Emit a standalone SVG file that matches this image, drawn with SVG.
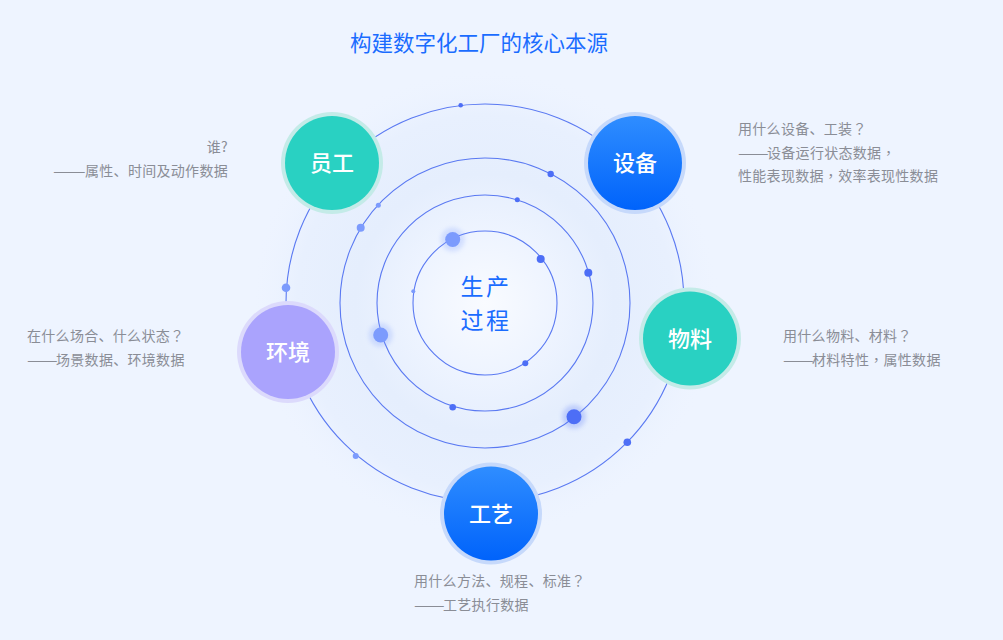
<svg xmlns="http://www.w3.org/2000/svg" width="1003" height="640" viewBox="0 0 1003 640">
<defs>
<style>
.ring{fill:none;stroke:#5a79f2;stroke-width:1.1}
.side{font-family:"Noto Sans CJK SC","Noto Sans",sans-serif;font-size:14px;fill:#8a8d96;letter-spacing:0.3px}
.p{font-family:"Noto Sans CJK TC","Noto Sans CJK SC",sans-serif}
.lbl{font-family:"Noto Sans CJK SC","Noto Sans",sans-serif;font-size:22px;fill:#ffffff;text-anchor:middle;font-weight:500}
.dk{fill:#4d6ef6}
.lt{fill:#7c9bfd}
.ctr{font-family:"Noto Sans CJK SC","Noto Sans",sans-serif;font-size:23px;fill:#1a6cff;text-anchor:middle;letter-spacing:2.5px}
</style>
<radialGradient id="glow" cx="485" cy="303" r="235" gradientUnits="userSpaceOnUse">
<stop offset="0" stop-color="#f9fbff"/>
<stop offset="0.3" stop-color="#eef4ff"/>
<stop offset="0.55" stop-color="#e5eefd"/>
<stop offset="0.8" stop-color="#e8f0fe"/>
<stop offset="1" stop-color="#eef4ff" stop-opacity="0"/>
</radialGradient>
<linearGradient id="blue" x1="0" y1="0" x2="0" y2="1">
<stop offset="0" stop-color="#2f8dff"/>
<stop offset="1" stop-color="#0063fb"/>
</linearGradient>
<filter id="blur" x="-1" y="-1" width="3" height="3"><feGaussianBlur stdDeviation="2"/></filter>
</defs>
<rect width="1003" height="640" fill="#eef4ff"/>
<circle cx="485" cy="303" r="235" fill="url(#glow)"/>
<text x="479" y="51" text-anchor="middle" font-family="'Noto Sans CJK SC','Noto Sans',sans-serif" font-size="21.5" fill="#1a6cff">构建数字化工厂的核心本源</text>
<g id="connectors">
<circle class="ring" cx="485" cy="303" r="72"/>
<circle class="ring" cx="485" cy="303" r="108"/>
<circle class="ring" cx="485" cy="303" r="145"/>
<circle class="ring" cx="485" cy="303" r="199"/>
<g id="dots">
<circle class="lt" cx="452.7" cy="239.5" r="12" opacity="0.25" filter="url(#blur)"/>
<circle class="lt" cx="452.7" cy="239.5" r="7.5"/>
<circle class="lt" cx="380.7" cy="335" r="12" opacity="0.25" filter="url(#blur)"/>
<circle class="lt" cx="380.7" cy="335" r="7.5"/>
<circle class="dk" cx="574" cy="416.7" r="12" opacity="0.25" filter="url(#blur)"/>
<circle class="dk" cx="574" cy="416.7" r="7.5"/>
<circle class="dk" cx="540.7" cy="259" r="4"/>
<circle class="dk" cx="588.3" cy="272.7" r="4"/>
<circle class="dk" cx="550.7" cy="174" r="3.2"/>
<circle class="dk" cx="517.3" cy="199.7" r="2.5"/>
<circle class="lt" cx="413.3" cy="291.3" r="2"/>
<circle class="lt" cx="378.3" cy="205.3" r="2.5"/>
<circle class="lt" cx="360.7" cy="227.7" r="4"/>
<circle class="dk" cx="460.7" cy="105.3" r="2.3"/>
<circle class="lt" cx="286" cy="287.7" r="4.3"/>
<circle class="dk" cx="525.3" cy="363.3" r="3"/>
<circle class="dk" cx="452.7" cy="407.3" r="3.3"/>
<circle class="dk" cx="627.3" cy="442.3" r="3.8"/>
<circle class="lt" cx="355.7" cy="456" r="3"/>
</g>
</g>
<g id="center">
<text class="ctr" x="486" y="295">生产</text>
<text class="ctr" x="486" y="329">过程</text>
</g>
<g id="node-yuangong">
<circle cx="332" cy="163" r="51" fill="#c4ebe8"/>
<circle cx="332" cy="163" r="47" fill="#29d1c2"/>
<text class="lbl" x="332" y="171">员工</text>
<text class="side" x="228" y="152" text-anchor="end">谁?</text>
<text class="side" x="53" y="176" textLength="33" lengthAdjust="spacingAndGlyphs">——</text>
<text class="side" x="228" y="176" text-anchor="end">属性、时间及动作数据</text>
</g>
<g id="node-shebei">
<circle cx="635" cy="163" r="51" fill="#c6d9fb"/>
<circle cx="635" cy="163" r="47" fill="url(#blue)"/>
<text class="lbl" x="635" y="171">设备</text>
<text class="side" x="738" y="134">用什么设备、工装<tspan class="p">？</tspan></text>
<text class="side" x="738" y="158" textLength="31" lengthAdjust="spacingAndGlyphs">——</text>
<text class="side" x="767" y="158">设备运行状态数据<tspan class="p">，</tspan></text>
<text class="side" x="738" y="181">性能表现数据<tspan class="p">，</tspan>效率表现性数据</text>
</g>
<g id="node-wuliao">
<circle cx="690" cy="338.5" r="51" fill="#c4ebe8"/>
<circle cx="690" cy="338.5" r="47" fill="#29d1c2"/>
<text class="lbl" x="690" y="346.5">物料</text>
<text class="side" x="783" y="341">用什么物料、材料<tspan class="p">？</tspan></text>
<text class="side" x="783" y="365" textLength="31" lengthAdjust="spacingAndGlyphs">——</text>
<text class="side" x="812" y="365">材料特性<tspan class="p">，</tspan>属性数据</text>
</g>
<g id="node-huanjing">
<circle cx="288" cy="352" r="51" fill="#dcdafc"/>
<circle cx="288" cy="352" r="47" fill="#aaa3fd"/>
<text class="lbl" x="288" y="360">环境</text>
<text class="side" x="27" y="341">在什么场合、什么状态<tspan class="p">？</tspan></text>
<text class="side" x="27" y="365" textLength="31" lengthAdjust="spacingAndGlyphs">——</text>
<text class="side" x="56" y="365">场景数据、环境数据</text>
</g>
<g id="node-gongyi">
<circle cx="491" cy="513.5" r="51" fill="#c6d9fb"/>
<circle cx="491" cy="513.5" r="47" fill="url(#blue)"/>
<text class="lbl" x="491" y="521.5">工艺</text>
<text class="side" x="414" y="586">用什么方法、规程、标准<tspan class="p">？</tspan></text>
<text class="side" x="414" y="610" textLength="31" lengthAdjust="spacingAndGlyphs">——</text>
<text class="side" x="443" y="610">工艺执行数据</text>
</g>
</svg>
